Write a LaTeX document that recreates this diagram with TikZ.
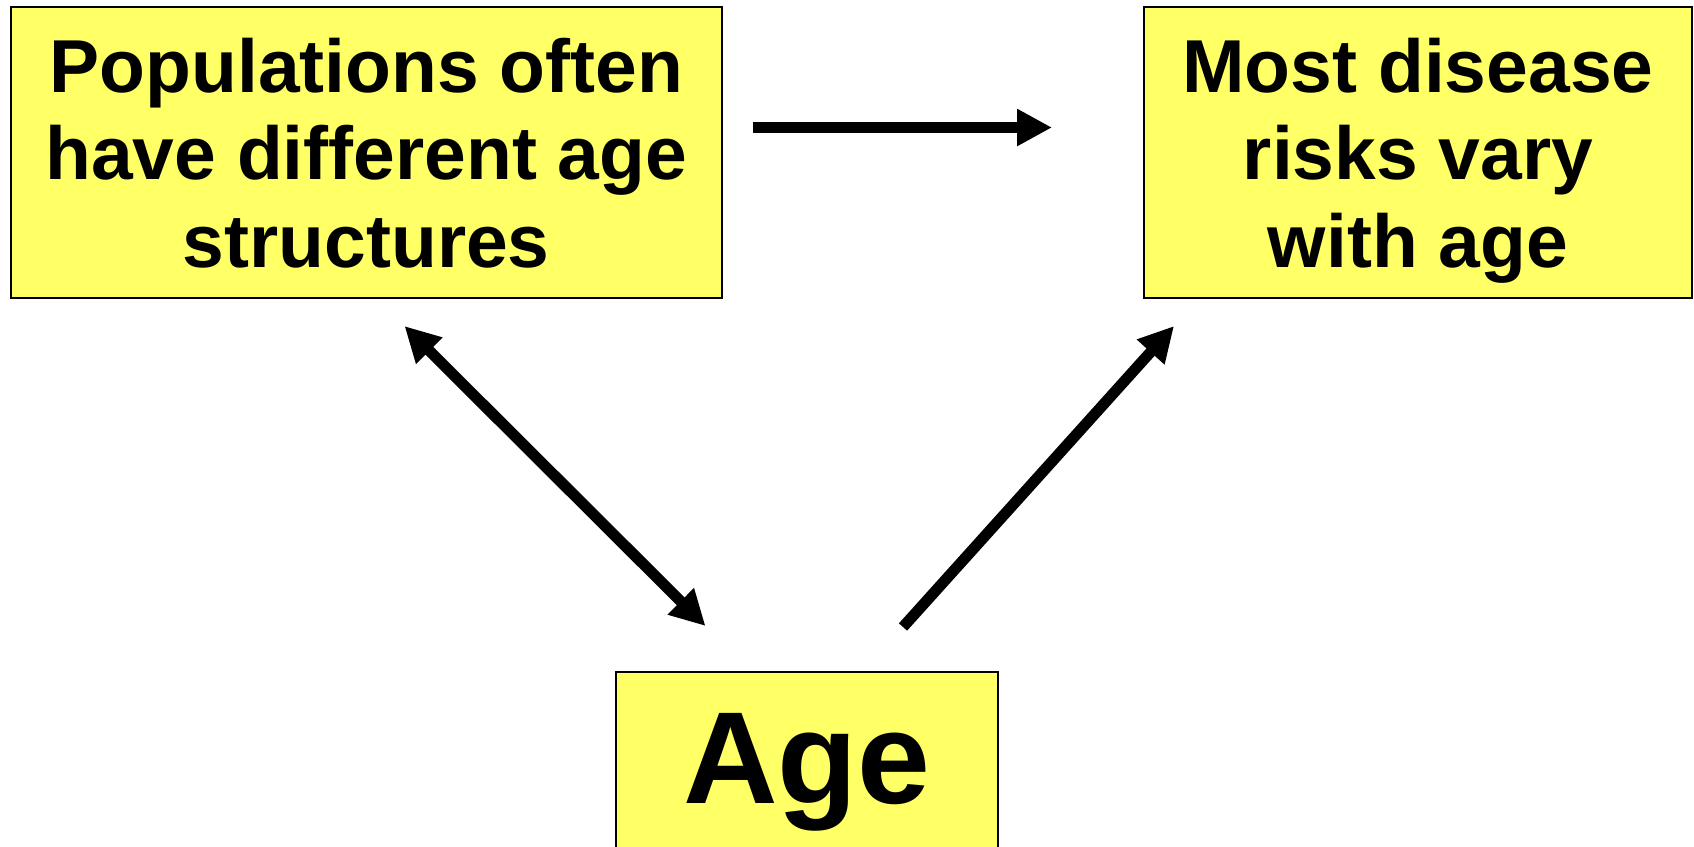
\documentclass[tikz,border=0pt]{standalone}
\usepackage{fontspec}
\setmainfont{Liberation Sans}
\usetikzlibrary{arrows.meta}
\definecolor{boxyellow}{HTML}{FFFF66}
\begin{document}
\begin{tikzpicture}[x=1pt,y=-1pt,
  >={Triangle[length=35pt,width=35pt]},
  box/.style={draw=black, line width=2pt, fill=boxyellow, inner sep=0pt,
    align=center, font=\bfseries\fontsize{75}{87.5}\selectfont},
  conn/.style={line width=11pt},
  ]
\useasboundingbox (0,0) rectangle (1694,846);
\clip (0,0) rectangle (1694,846);

% the three statements
\node[box, minimum width=711.5pt, minimum height=290.7pt] (pop) at (366.3,152.7)
  {Populations often\\have different age\\structures};
\node[box, minimum width=548pt, minimum height=290.7pt] (risk) at (1418,152.7)
  {Most disease\\risks vary\\\raisebox{0pt}[\height][0pt]{with age}};
\node[box, minimum width=382pt, minimum height=180pt,
  font=\bfseries\fontsize{131}{150}\selectfont] (age) at (807,762)
  {\raisebox{4pt}[\height][0pt]{Age}};

% links between them
\draw[conn, ->] ([xshift=30pt,yshift=25.2pt]pop.east) -- ([xshift=-91pt,yshift=25.2pt]risk.west);
\draw[conn, <->] ([xshift=38.2pt,yshift=-27pt]pop.south) -- ([xshift=-101.5pt,yshift=45pt]age.north);
\draw[conn, ->] ([xshift=96pt,yshift=44pt]age.north) -- ([xshift=-244pt,yshift=-27pt]risk.south);
\end{tikzpicture}
\end{document}
